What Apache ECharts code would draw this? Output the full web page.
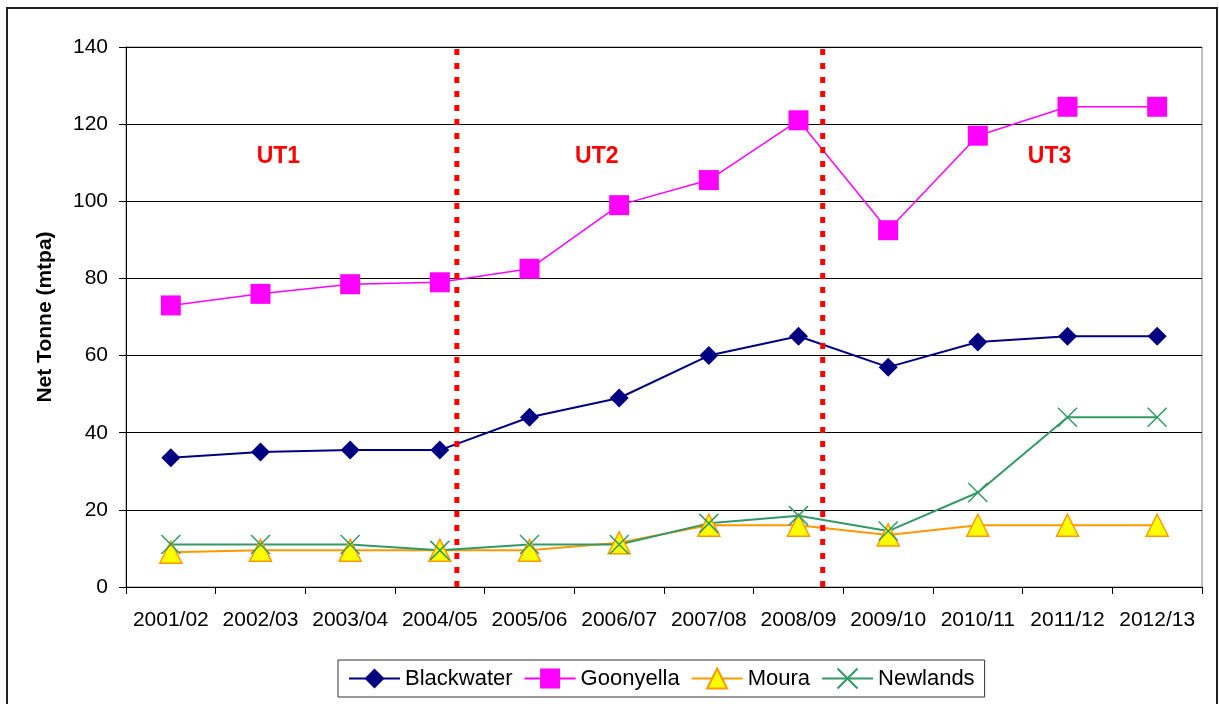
<!DOCTYPE html>
<html>
<head>
<meta charset="utf-8">
<script src="https://cdn.jsdelivr.net/npm/echarts@6/dist/echarts.min.js"></script>
<style>
  html, body { margin: 0; padding: 0; background: #fff; }
  #chart { width: 1219px; height: 704px; }
</style>
</head>
<body>
<div id="chart"></div>
<script>
const years = ["2001/02", "2002/03", "2003/04", "2004/05", "2005/06", "2006/07",
  "2007/08", "2008/09", "2009/10", "2010/11", "2011/12", "2012/13"];

const blackwater = [33.5, 35, 35.5, 35.5, 44, 49, 60, 65, 57, 63.5, 65, 65];
const goonyella = [73, 76, 78.5, 79, 82.5, 99, 105.5, 121, 92.5, 117, 124.5, 124.5];
const moura = [9, 9.5, 9.5, 9.5, 9.5, 11.5, 16, 16, 13.5, 16, 16, 16];
const newlands = [11, 11, 11, 9.5, 11, 11, 16.5, 18.5, 14.5, 24.5, 44, 44];

// undertaking periods: divider positions and labels, in category units (0..12)
const periodBreaks = [3.69, 7.77];
const periodLabels = ["UT1", "UT2", "UT3"];
const periodLabelX = [1.70, 5.25, 10.30];
const periodLabelY = 111.5;

const yTicks = { min: 0, max: 140, interval: 20 };

const chart = echarts.init(document.getElementById("chart"));

const font = "Liberation Sans, Arial, sans-serif";
const crossPath = "path://M0,0L20,20M20,0L0,20";

const breakSeries = periodBreaks.map((x) => ({
  type: "line",
  xAxisIndex: 1,
  data: [[x, yTicks.min], [x, yTicks.max]],
  symbol: "none",
  silent: true,
  z: 10,
  lineStyle: { color: "#FF0000", width: 5, type: [6, 8], cap: "butt" }
}));

const option = {
  animation: false,
  textStyle: { fontFamily: font },
  graphic: [
    {
      type: "rect",
      shape: { x: 7, y: 8, width: 1210, height: 720 },
      style: { fill: "none", stroke: "#222", lineWidth: 2 },
      silent: true
    }
  ],
  grid: {
    left: 126,
    right: 17,
    top: 47,
    bottom: 117,
    show: true,
    borderColor: "#808080",
    borderWidth: 1
  },
  legend: {
    data: ["Blackwater", "Goonyella", "Moura", "Newlands"],
    left: 338,
    top: 660,
    padding: [6, 10, 6, 10],
    itemGap: 11,
    itemWidth: 51,
    itemHeight: 25,
    borderColor: "#333",
    borderWidth: 1,
    textStyle: { fontSize: 22, color: "#000", fontFamily: font }
  },
  xAxis: [
    {
      type: "category",
      data: years,
      boundaryGap: true,
      axisLine: { lineStyle: { color: "#000", width: 1 } },
      axisTick: { show: true, length: 7, lineStyle: { color: "#000" } },
      axisLabel: { color: "#000", fontSize: 21, margin: 23, interval: 0 },
      splitLine: { show: false }
    },
    {
      type: "value",
      min: 0,
      max: 12,
      show: false
    }
  ],
  yAxis: {
    type: "value",
    min: yTicks.min,
    max: yTicks.max,
    interval: yTicks.interval,
    name: "Net Tonne (mtpa)",
    nameLocation: "middle",
    nameGap: 70,
    nameTextStyle: { fontSize: 21, fontWeight: "bold", color: "#000" },
    axisLine: { show: true, lineStyle: { color: "#000" } },
    axisTick: { show: true, length: 7, lineStyle: { color: "#000" } },
    axisLabel: { color: "#000", fontSize: 21, margin: 18 },
    splitLine: { lineStyle: { color: "#000", width: 1 } }
  },
  series: [
    {
      name: "Blackwater",
      type: "line",
      data: blackwater,
      symbol: "diamond",
      symbolSize: 19,
      itemStyle: { color: "#000080" },
      lineStyle: { color: "#000080", width: 2 }
    },
    {
      name: "Goonyella",
      type: "line",
      data: goonyella,
      symbol: "rect",
      symbolSize: 20,
      itemStyle: { color: "#FF00FF" },
      lineStyle: { color: "#FF00FF", width: 1.5 }
    },
    {
      name: "Moura",
      type: "line",
      data: moura,
      symbol: "triangle",
      symbolSize: 22,
      itemStyle: { color: "#FFFF00", borderColor: "#FF9900", borderWidth: 1.5 },
      lineStyle: { color: "#FF9900", width: 2 }
    },
    {
      name: "Newlands",
      type: "line",
      data: newlands,
      symbol: crossPath,
      symbolSize: 19,
      itemStyle: { color: "none", borderColor: "#339966", borderWidth: 1.5 },
      lineStyle: { color: "#339966", width: 2 }
    },
    ...breakSeries,
    {
      type: "scatter",
      xAxisIndex: 1,
      silent: true,
      symbolSize: 1,
      itemStyle: { color: "transparent" },
      data: periodLabels.map((t, i) => [periodLabelX[i], periodLabelY, t]),
      label: {
        show: true,
        position: "inside",
        formatter: (p) => p.value[2],
        color: "#FF0000",
        opacity: 1,
        textBorderWidth: 0,
        fontSize: 23,
        fontWeight: "bold",
        fontFamily: font
      }
    }
  ]
};

chart.setOption(option);
</script>
</body>
</html>
